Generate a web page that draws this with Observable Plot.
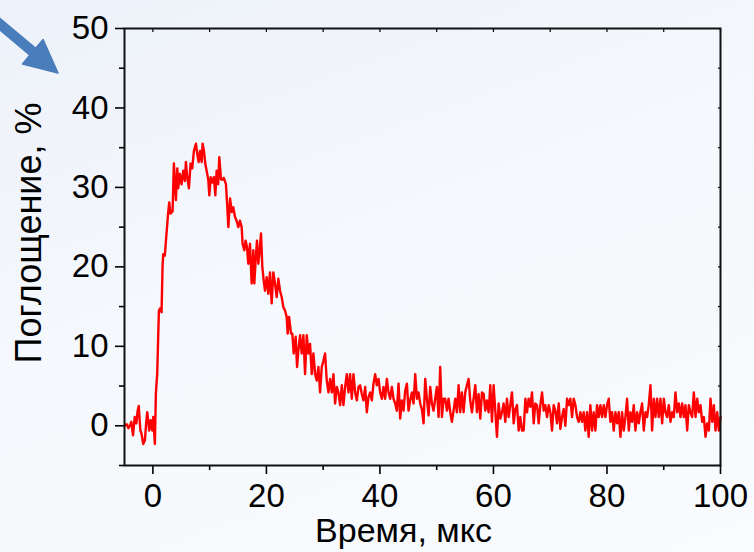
<!DOCTYPE html>
<html>
<head>
<meta charset="utf-8">
<script src="https://cdn.jsdelivr.net/npm/d3@7"></script>
<script src="https://cdn.jsdelivr.net/npm/@observablehq/plot@0.6"></script>
<style>
  html, body { margin: 0; padding: 0; }
  body {
    width: 754px; height: 552px; overflow: hidden; position: relative;
    background: linear-gradient(160deg, #edf1f9 0%, #f5f8fc 45%, #f9fbfe 100%);
    font-family: "Liberation Sans", Arial, sans-serif;
  }
  #chart { position: absolute; left: 0; top: 0; }
  #pointer { position: absolute; left: 0; top: 0; overflow: visible; }
</style>
</head>
<body>
<div id="chart"></div>
<svg id="pointer" width="80" height="90"></svg>
<script>
// Transient absorption trace: time (µs) vs absorption (%)
const preTrigger = [
  [-5.0,0.0],[-4.6,0.2],[-4.3,-0.3],[-4.06,0.0],[-3.8,0.5],[-3.5,-1.2],[-3.2,1.1],[-2.9,0.3],
  [-2.7,1.8],[-2.5,2.5],[-2.2,-0.6],[-2.0,-1.0],[-1.7,-2.3],[-1.4,-1.8],[-1.2,0.2],[-1.0,1.7],
  [-0.8,0.5],[-0.65,-0.6],[-0.4,0.7],[-0.1,-0.6],[0.06,1.1],[0.2,-0.5],[0.35,-2.3]
];

const rise = [
  [0.53,4.1],[0.76,6.5],[1.06,14.5],[1.3,14.8],[1.53,14.3],[1.7,20.0],[1.82,21.6],[2.1,21.4],
  [2.4,24.2],[2.7,26.9],[2.88,28.1],[3.1,26.7],[3.47,27.0],[3.7,33.0],[4.06,28.4],[4.3,32.4],
  [4.47,29.9],[4.76,31.7],[5.06,30.4],[5.35,32.1],[5.64,30.8],[5.82,33.2],[6.05,31.3],[6.35,29.9],
  [6.64,33.0],[6.93,32.4],[7.23,34.6],[7.58,35.5],[7.82,34.2],[8.06,33.2],[8.3,34.6],[8.6,33.2],
  [8.76,35.5],[9.0,34.6],[9.23,33.0],[9.47,32.1],[9.76,31.0],[9.94,29.0],[10.2,31.3],[10.5,30.6],
  [10.76,31.3],[11.0,29.0],[11.23,32.1],[11.5,30.4],[11.7,33.8],[12.0,31.0],[12.3,31.0],[12.5,31.2],
  [12.87,30.4],[13.1,27.7],[13.3,25.0],[13.6,28.6],[13.9,26.9],[14.16,27.5],[14.46,26.3]
];

const decay = [
  [14.75,25.8],[15.05,25.0],[15.34,25.8],[15.64,25.0],[15.81,22.9],[16.11,22.1],[16.34,23.3],[16.58,22.5],
  [16.81,20.4],[17.11,22.9],[17.4,17.9],[17.7,22.1],[17.87,17.9],[18.1,20.8],[18.34,23.3],[18.58,20.4],
  [18.81,22.1],[19.05,24.2],[19.28,20.0],[19.52,18.3],[19.75,17.0],[20.05,18.7],[20.34,16.6],[20.63,19.3],
  [20.93,15.4],[21.22,19.3],[21.52,17.9],[21.81,16.2],[22.1,18.5],[22.4,17.0],[22.69,16.2],[22.99,14.9],
  [23.28,14.5],[23.57,13.7],[23.75,11.6],[23.99,13.7],[24.34,11.6],[24.57,11.6],[24.81,9.1],[25.16,11.2],
  [25.4,7.4],[25.63,9.5]
];

const tail = [
  [25.93,11.4],[26.22,9.1],[26.52,11.4],[26.81,6.5],[27.11,11.4],[27.4,9.1],[27.69,10.3],[27.99,6.5],
  [28.28,9.1],[28.58,6.5],[28.87,5.7],[29.16,7.4],[29.46,4.2],[29.75,7.4],[30.05,8.2],[30.34,9.1],
  [30.63,5.7],[30.93,4.2],[31.22,5.9],[31.52,4.2],[31.81,6.5],[32.1,2.8],[32.4,4.9],[32.69,4.2],
  [32.99,2.6],[33.28,5.1],[33.57,2.6],[33.87,4.9],[34.16,6.5],[34.46,4.2],[34.75,6.5],[35.04,3.4],
  [35.34,6.5],[35.63,4.2],[35.93,3.2],[36.22,4.9],[36.51,5.1],[36.81,4.0],[37.1,3.2],[37.4,4.9],
  [37.69,1.7],[37.98,3.6],[38.28,4.2],[38.57,3.2],[38.87,5.3],[39.16,6.5],[39.45,5.1],[39.75,5.9],
  [40.04,4.2],[40.34,3.4],[40.63,4.9],[40.92,3.4],[41.22,5.9],[41.51,4.2],[41.81,3.4],[42.1,4.9],
  [42.39,3.4],[42.69,2.8],[42.98,1.9],[43.28,5.3],[43.57,0.9],[43.86,3.2],[44.16,1.9],[44.45,4.4],
  [44.75,5.3],[45.04,1.9],[45.33,3.2],[45.63,4.2],[45.92,2.8],[46.22,6.5],[46.51,3.4],[46.8,4.2],
  [47.1,2.8],[47.39,2.1],[47.69,0.3],[47.98,5.9],[48.27,3.4],[48.57,1.3],[48.86,4.9],[49.16,2.8],
  [49.45,1.9],[49.74,3.4],
  [50.03,4.9],[50.33,1.1],[50.62,7.4],[50.92,1.1],[51.21,3.4],[51.5,3.4],[51.8,1.9],[52.09,3.4],
  [52.39,1.7],[52.68,0.5],[52.97,1.9],[53.27,3.4],[53.56,1.7],[53.86,5.1],[54.15,1.7],[54.44,4.2],
  [54.74,1.7],[55.03,4.2],[55.33,5.1],[55.62,5.9],[55.91,3.2],[56.21,1.7],[56.5,3.4],[56.8,5.1],
  [57.09,1.7],[57.38,4.0],[57.68,0.9],[57.97,4.2],[58.27,4.0],[58.56,1.9],[58.85,3.2],[59.15,1.7],
  [59.44,5.1],[59.74,0.5],[60.03,5.1],[60.32,1.9],[60.62,-1.4],[60.91,2.8],[61.21,0.9],[61.5,1.7],
  [61.79,2.8],[62.09,0.5],[62.38,3.4],[62.68,1.1],[62.97,2.6],[63.26,4.2],[63.56,0.3],[63.85,2.1],
  [64.15,2.6],[64.44,-0.6],[64.73,1.1],[65.03,-0.6],[65.32,-0.6],[65.62,3.4],[65.91,1.7],[66.2,3.4],
  [66.5,2.4],[66.79,4.2],[67.09,0.3],[67.38,2.8],[67.67,2.6],[67.97,0.3],[68.26,2.6],[68.56,4.2],
  [68.85,1.9],[69.14,2.6],[69.44,1.1],[69.73,2.6],[70.03,1.7],[70.32,-0.6],[70.61,2.6],[70.91,1.9],
  [71.2,0.3],[71.5,2.8],[71.79,-0.4],[72.08,1.1],[72.38,2.1],[72.67,0.0],[72.97,3.4],[73.26,2.6],
  [73.55,3.4],[73.85,1.1],[74.14,3.4],[74.44,2.6],[74.73,1.1],[75.02,0.5],[75.32,1.7],
  [75.6,0.5],[75.9,1.7],[76.19,-0.6],[76.49,1.7],[76.78,-1.4],[77.07,2.6],[77.37,-0.6],[77.66,1.7],
  [77.96,-0.6],[78.25,2.6],[78.54,1.1],[78.84,2.6],[79.13,1.1],[79.43,2.6],[79.72,1.1],[80.01,2.6],
  [80.31,3.4],[80.6,0.5],[80.9,1.7],[81.19,-0.6],[81.48,1.7],[81.78,0.3],[82.07,1.7],[82.37,-1.4],
  [82.66,1.7],[82.95,-0.6],[83.25,1.1],[83.54,3.4],[83.84,-0.6],[84.13,1.7],[84.42,0.5],[84.72,2.6],
  [85.01,-0.6],[85.31,1.7],[85.6,0.3],[85.89,1.7],[86.19,2.8],[86.48,-0.6],[86.78,1.7],[87.07,1.1],
  [87.36,2.6],[87.66,5.1],[87.95,-0.6],[88.25,3.4],[88.54,1.1],[88.83,3.4],[89.13,1.1],[89.42,3.4],
  [89.72,0.3],[90.01,3.4],[90.3,1.7],[90.6,1.1],[90.89,2.6],[91.19,0.5],[91.48,1.7],[91.77,1.1],
  [92.07,4.2],[92.36,1.7],[92.66,2.8],[92.95,1.1],[93.24,2.8],[93.54,1.1],[93.83,2.6],[94.13,-0.6],
  [94.42,2.6],[94.71,1.7],[95.01,1.1],[95.3,4.2],[95.6,1.1],[95.89,3.4],[96.18,1.7],[96.48,2.6],
  [96.77,0.5],[97.07,1.1],[97.36,-1.4],[97.65,0.3],[97.95,-0.6],[98.24,3.4],[98.54,0.5],[98.83,2.6],
  [99.12,-0.6],[99.42,1.7],[99.71,-0.6],[100.0,1.1]
];

const xMajorTicks = [0, 20, 40, 60, 80, 100];
const xMinorTicks = [10, 30, 50, 70, 90];
const xTopTicks = [0, 10, 20, 30, 40, 50, 60, 70, 80, 90, 100];
const yMajorTicks = [0, 10, 20, 30, 40, 50];
const yMinorTicks = [-5, 5, 15, 25, 35, 45];
const yRightTicks = [-5, 0, 5, 10, 15, 20, 25, 30, 35, 40, 45, 50];
const xTitle = "Время, мкс";
const yTitle = "Поглощение, %";

const absorption = [...preTrigger, ...rise, ...decay, ...tail].map(([t, v]) => ({t, v}));

const blank = () => "";
const chart = Plot.plot({
  width: 754,
  height: 552,
  marginLeft: 124,
  marginRight: 34,
  marginTop: 28,
  marginBottom: 87,
  style: {
    background: "transparent",
    fontFamily: "'Liberation Sans', Arial, sans-serif",
    fontSize: "33px",
    color: "#000",
    overflow: "visible"
  },
  x: {domain: [-5, 100]},
  y: {domain: [-5, 50]},
  marks: [
    Plot.axisY(yMajorTicks, {tickSize: 9, tickPadding: 7, fontSize: 33, label: null, strokeWidth: 1.6}),
    Plot.axisY(yMinorTicks, {tickSize: 5, tickFormat: blank, label: null, strokeWidth: 1.6}),
    Plot.axisY(yRightTicks, {anchor: "right", tickSize: -3, tickFormat: blank, label: null, strokeWidth: 1.2}),
    Plot.axisX(xMajorTicks, {tickSize: 9, tickPadding: 9, fontSize: 33, label: null, strokeWidth: 1.6}),
    Plot.axisX(xMinorTicks, {tickSize: 5, tickFormat: blank, label: null, strokeWidth: 1.6}),
    Plot.axisX(xTopTicks, {anchor: "top", tickSize: -3, tickFormat: blank, label: null, strokeWidth: 1.2}),
    Plot.line(absorption, {x: "t", y: "v", stroke: "#ff0000", strokeWidth: 2.4, strokeLinejoin: "round"}),
    Plot.frame({stroke: "#111", strokeWidth: 2}),
    Plot.text([xTitle], {text: d => d, frameAnchor: "bottom", textAnchor: "middle", dx: -19, dy: 76, fontSize: 34}),
    Plot.text([yTitle], {text: d => d, frameAnchor: "left", textAnchor: "middle", rotate: -90, dx: -95, dy: -14, fontSize: 36})
  ]
});
document.getElementById("chart").appendChild(chart);

// Blue pointer arrow in the upper-left corner
d3.select("#pointer")
  .append("path")
  .attr("d", "M-16.5,16.3 L29.9,55.1 L22.5,63.9 L58,73 L43.1,39.5 L35.7,48.3 L-10.7,9.5 Z")
  .attr("fill", "#4a7dbb")
  .attr("stroke", "#4a7dbb")
  .attr("stroke-width", 1.5)
  .attr("stroke-linejoin", "round");
</script>
</body>
</html>
